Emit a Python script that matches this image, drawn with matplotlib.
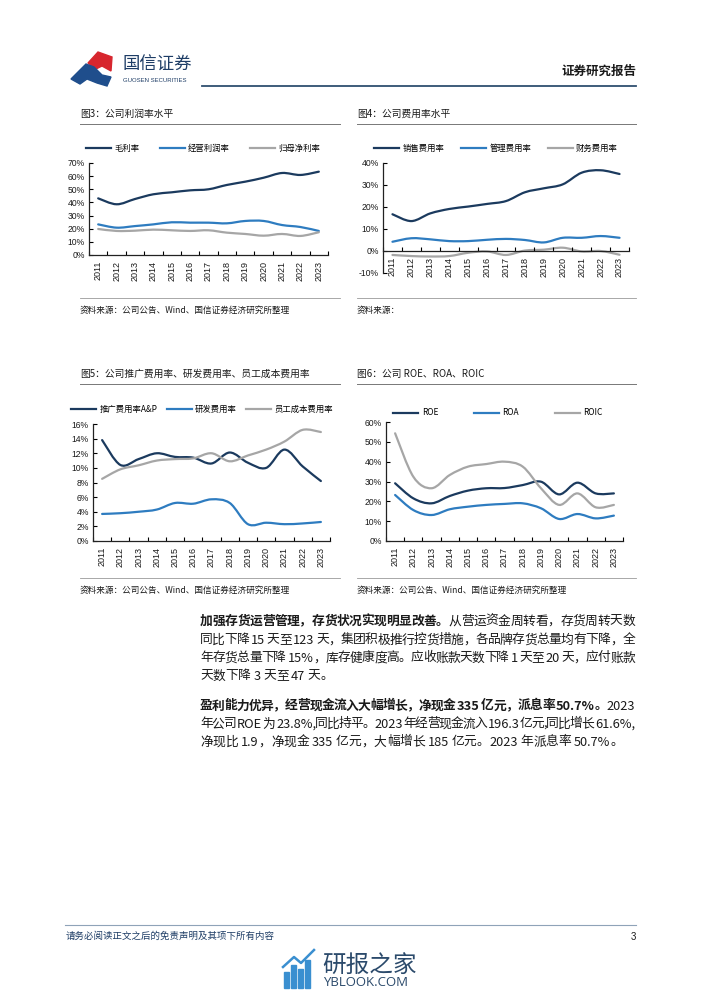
import matplotlib
matplotlib.use('Agg')
import matplotlib.pyplot as plt
from matplotlib.path import Path
from matplotlib.patches import PathPatch, Polygon, Rectangle
from matplotlib.lines import Line2D
import numpy as np
import re

plt.rcParams['font.family'] = ['Liberation Sans', 'Noto Sans CJK SC', 'DejaVu Sans']
CJK = ['Noto Sans CJK SC', 'DejaVu Sans']

# ---------------- data ----------------
years = [str(y) for y in range(2011, 2024)]

# Fig 3: profit margins (%)
gross_margin = [43.1, 38.6, 42.6, 46.2, 47.7, 49.2, 50.0, 53.3, 55.8, 58.8, 62.4, 60.9, 63.4]
op_margin = [23.3, 20.8, 22.0, 23.3, 24.9, 24.6, 24.6, 24.1, 25.9, 25.9, 22.8, 21.3, 18.3]
net_margin = [19.8, 18.3, 18.5, 19.3, 18.8, 18.3, 18.8, 17.0, 16.0, 14.7, 16.0, 14.5, 17.3]
fig3_names = ['毛利率', '经营利润率', '归母净利率']

# Fig 4: expense ratios (%)
selling_ratio = [16.7, 13.6, 17.1, 19.1, 20.2, 21.4, 22.7, 26.7, 28.5, 30.3, 35.6, 36.7, 35.0]
admin_ratio = [4.2, 5.8, 5.3, 4.5, 4.5, 5.1, 5.5, 5.0, 3.9, 6.0, 6.0, 6.8, 6.0]
finance_ratio = [-1.8, -2.3, -2.5, -2.3, -0.8, -0.2, -1.8, 0.2, 0.6, 1.5, -0.2, 0.0, -1.7]
fig4_names = ['销售费用率', '管理费用率', '财务费用率']

# Fig 5: A&P, R&D, staff cost ratios (%)
ap_ratio = [13.8, 10.4, 11.2, 12.0, 11.5, 11.4, 10.6, 12.1, 10.7, 10.0, 12.5, 10.2, 8.2]
rd_ratio = [3.7, 3.8, 4.0, 4.3, 5.2, 5.1, 5.7, 5.2, 2.3, 2.5, 2.3, 2.4, 2.6]
staff_ratio = [8.5, 9.8, 10.35, 11.0, 11.2, 11.3, 12.0, 10.9, 11.7, 12.5, 13.6, 15.2, 14.9]
fig5_names = ['推广费用率A&P', '研发费用率', '员工成本费用率']

# Fig 6: ROE, ROA, ROIC (%)
roe = [29.1, 21.5, 19.0, 22.7, 25.4, 26.6, 26.7, 28.2, 29.9, 23.5, 29.4, 24.0, 24.0]
roa = [23.2, 15.6, 13.1, 16.0, 17.3, 18.2, 18.7, 19.0, 16.5, 11.1, 13.6, 11.4, 12.8]
roic = [54.3, 32.4, 26.6, 33.3, 37.5, 38.8, 40.0, 37.5, 26.6, 18.2, 24.0, 17.0, 18.2]
fig6_names = ['ROE', 'ROA', 'ROIC']

DARK = '#1b3a5e'
MID = '#2e7cc0'
GRAY = '#a6a6a6'
TXT = '#1a1a1a'

W, H = 702, 991
fig = plt.figure(figsize=(W / 100, H / 100), dpi=100)
renderer = fig.canvas.get_renderer()


def fx(px):
    return px / W


def fy(py):
    return 1 - py / H


def smooth_path(xs, ys):
    pts = np.column_stack([xs, ys]).astype(float)
    n = len(pts)
    verts = [pts[0]]
    codes = [Path.MOVETO]
    for i in range(n - 1):
        p0 = pts[i - 1] if i > 0 else pts[i]
        p1 = pts[i]
        p2 = pts[i + 1]
        p3 = pts[i + 2] if i + 2 < n else pts[i + 1]
        c1 = p1 + (p2 - p0) / 6.0
        c2 = p2 - (p3 - p1) / 6.0
        verts += [c1, c2, p2]
        codes += [Path.CURVE4] * 3
    return Path(verts, codes)


def make_chart(x0, x1, ytop, ybot, series, names, ylim, yticks,
               legend_y, legend_cx, colspace, zero_spine=False):
    ax = fig.add_axes([fx(x0), fy(ybot), fx(x1) - fx(x0), fy(ytop) - fy(ybot)])
    for s in ['top', 'right']:
        ax.spines[s].set_visible(False)
    if zero_spine:
        ax.spines['bottom'].set_position(('data', 0))
    for s in ['left', 'bottom']:
        ax.spines[s].set_linewidth(0.9)
        ax.spines[s].set_color('#222222')
    xs = np.arange(len(years))
    colors = [DARK, MID, GRAY]
    for vals, c in zip(series, colors):
        ax.add_patch(PathPatch(smooth_path(xs, vals), fill=False, edgecolor=c,
                               lw=1.6, capstyle='round', joinstyle='round'))
    ax.set_xlim(-0.5, len(years) - 0.5)
    ax.set_ylim(*ylim)
    ax.set_yticks(yticks)
    ax.set_yticklabels([f'{t}%' for t in yticks], fontsize=6.2, color=TXT)
    ax.set_xticks(xs)
    ax.set_xticklabels(years, rotation=90, fontsize=6.5, color=TXT)
    ax.set_xticks(np.arange(-0.5, len(years)), minor=True)
    ax.tick_params(axis='x', which='major', length=0, pad=4)
    ax.tick_params(axis='x', which='minor', direction='in', length=3, width=0.8)
    ax.tick_params(axis='y', direction='in', length=3, width=0.8, pad=3)
    handles = [Line2D([], [], color=c, lw=1.6) for c in colors]
    ax.legend(handles, names, ncol=3, loc='center', frameon=False,
              bbox_to_anchor=((legend_cx - x0) / (x1 - x0),
                              (fy(legend_y) - fy(ybot)) / (fy(ytop) - fy(ybot))),
              prop={'family': CJK, 'size': 6}, handlelength=3.0,
              handletextpad=0.4, columnspacing=colspace)
    return ax


# ---------------- header ----------------
fig.patches.append(Polygon([(fx(88), fy(63)), (fx(98), fy(52)), (fx(112), fy(57)),
                            (fx(111), fy(71)), (fx(102), fy(66)), (fx(96), fy(69))],
                           closed=True, transform=fig.transFigure, color='#d7262e'))
fig.patches.append(Polygon([(fx(71), fy(79)), (fx(86), fy(64)), (fx(94), fy(67)),
                            (fx(102), fy(75)), (fx(111), fy(77)), (fx(107), fy(86)),
                            (fx(97), fy(83)), (fx(87), fy(79)), (fx(80), fy(84))],
                           closed=True, transform=fig.transFigure, color='#1f4e8c'))
fig.text(fx(122), fy(65), '国信证券', fontsize=12.5, family=CJK, color='#1e3d66',
         va='center', ha='left')
fig.text(fx(123), fy(80), 'GUOSEN SECURITIES', fontsize=4.3, color='#1e3d66',
         va='center', ha='left')
fig.text(fx(636), fy(71), '证券研究报告', fontsize=9, family=CJK, weight='bold',
         color=TXT, va='center', ha='right')
fig.add_artist(Line2D([fx(202), fx(636)], [fy(86), fy(86)], color='#2f4f6f', lw=1.3))


# ---------------- titles ----------------
def title(x0, x1, y, s):
    fig.text(fx(x0), fy(y), s, fontsize=7, family=CJK, color=TXT, va='center', ha='left')
    fig.add_artist(Line2D([fx(x0), fx(x1)], [fy(y + 10), fy(y + 10)], color='#777777', lw=0.7))


title(80, 340, 114, '图3：公司利润率水平')
title(357, 636, 114, '图4：公司费用率水平')
title(80, 340, 374, '图5：公司推广费用率、研发费用率、员工成本费用率')
title(357, 636, 374, '图6：公司 ROE、ROA、ROIC')

# ---------------- charts ----------------
make_chart(89, 328, 163, 255, [gross_margin, op_margin, net_margin], fig3_names,
           (0, 70), list(range(0, 71, 10)), 148, 203, 2.4)
make_chart(383, 629, 163, 273, [selling_ratio, admin_ratio, finance_ratio], fig4_names,
           (-10, 40), list(range(-10, 41, 10)), 148, 496, 2.0, zero_spine=True)
make_chart(93, 330, 424, 541, [ap_ratio, rd_ratio, staff_ratio], fig5_names,
           (0, 16), list(range(0, 17, 2)), 409, 202, 1.1)
make_chart(386, 623, 422, 541, [roe, roa, roic], fig6_names,
           (0, 60), list(range(0, 61, 10)), 413, 498, 4.3)

# ---------------- sources ----------------
for x0, x1, y, s in [(80, 340, 310, '资料来源：公司公告、Wind、国信证券经济研究所整理'),
                     (357, 636, 310, '资料来源：'),
                     (80, 340, 590, '资料来源：公司公告、Wind、国信证券经济研究所整理'),
                     (357, 636, 590, '资料来源：公司公告、Wind、国信证券经济研究所整理')]:
    fig.add_artist(Line2D([fx(x0), fx(x1)], [fy(y - 12), fy(y - 12)], color='#9a9a9a', lw=0.6))
    fig.text(fx(x0), fy(y), s, fontsize=6.2, family=CJK, color=TXT, va='center', ha='left')

# ---------------- body text (justified) ----------------
BODY = 9.2
X0, X1 = 200, 635
SPACE_PX = 2.5


def tokens_of(s, bold):
    out = []
    for m in re.finditer(r'[A-Za-z0-9.%,]+|\s|.', s):
        out.append((m.group(0), bold))
    return out


def body_line(y, segments, justify=True):
    toks = []
    for s, b in segments:
        toks += tokens_of(s, b)
    items = []
    total = 0.0
    for tok, b in toks:
        if tok.isspace():
            items.append((None, SPACE_PX))
            total += SPACE_PX
            continue
        t = fig.text(0, fy(y), tok, fontsize=BODY, family=CJK,
                     weight='bold' if b else 'normal', color=TXT,
                     va='center', ha='left')
        w = t.get_window_extent(renderer=renderer).width
        items.append((t, w))
        total += w
    ngaps = max(len(items) - 1, 1)
    extra = (X1 - X0 - total) / ngaps if justify else 0.0
    x = X0
    for t, w in items:
        if t is not None:
            t.set_x(fx(x))
        x += w + extra


body_line(621, [('加强存货运营管理，存货状况实现明显改善。', True), ('从营运资金周转看，存货周转天数', False)])
body_line(640, [('同比下降 15 天至 123 天，集团积极推行控货措施，各品牌存货总量均有下降，全', False)])
body_line(658, [('年存货总量下降 15%，库存健康度高。应收账款天数下降 1 天至 20 天，应付账款', False)])
body_line(676, [('天数下降 3 天至 47 天。', False)], justify=False)
body_line(706, [('盈利能力优异，经营现金流入大幅增长，净现金 335 亿元，派息率 50.7%。', True), ('2023', False)])
body_line(724, [('年公司 ROE 为 23.8%,同比持平。2023 年经营现金流入 196.3 亿元,同比增长 61.6%,', False)])
body_line(742, [('净现比 1.9，净现金 335 亿元，大幅增长 185 亿元。2023 年派息率 50.7%。', False)], justify=False)

# ---------------- footer ----------------
fig.add_artist(Line2D([fx(65), fx(636)], [fy(925), fy(925)], color='#8fa3b8', lw=0.8))
fig.text(fx(66), fy(936), '请务必阅读正文之后的免责声明及其项下所有内容', fontsize=6.8,
         family=CJK, style='italic', color='#1e3d66', va='center', ha='left')
fig.text(fx(636), fy(937), '3', fontsize=7, color=TXT, va='center', ha='right')

# watermark
for bx, btop in [(284, 972), (291, 965), (298, 969), (305, 960)]:
    fig.patches.append(Rectangle((fx(bx), fy(988)), fx(5), fy(btop) - fy(988),
                                 transform=fig.transFigure, color='#3a8fd0'))
fig.add_artist(Line2D([fx(283), fx(294), fx(301), fx(314)],
                      [fy(967), fy(957), fy(963), fy(950)], color='#3a8fd0', lw=1.8))
fig.text(fx(322), fy(965), '研报之家', fontsize=17, family=CJK, color='#2b4a6b',
         va='center', ha='left')
fig.text(fx(323), fy(983), 'YBLOOK.COM', fontsize=9.5, family=['Open Sans', 'DejaVu Sans'],
         color='#2b4a6b', va='center', ha='left')

fig.savefig('out.png', dpi=100)
